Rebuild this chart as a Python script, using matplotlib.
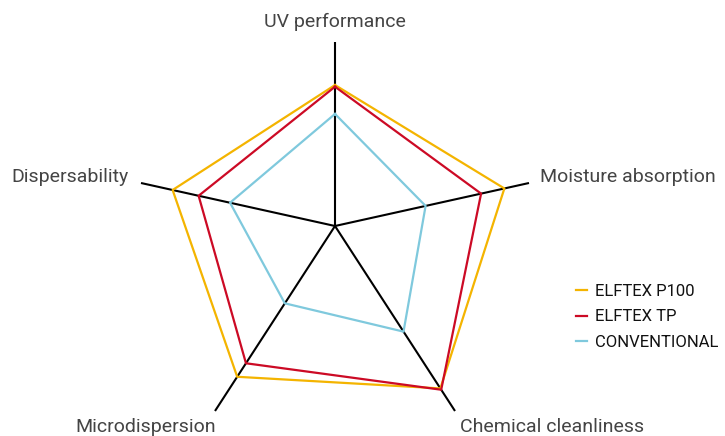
import matplotlib.pyplot as plt
import numpy as np

# data
axis_names = ["UV performance", "Moisture absorption", "Chemical cleanliness",
              "Microdispersion", "Dispersability"]
p100 = [0.766, 0.873, 0.878, 0.815, 0.837]
tp = [0.757, 0.753, 0.885, 0.742, 0.703]
conventional = [0.609, 0.467, 0.571, 0.418, 0.541]
series_names = ["ELFTEX P100", "ELFTEX TP", "CONVENTIONAL"]

# layout (pixel space of the figure)
W, H = 725, 436
center = np.array([335, 226])
ends = np.array([[335, 42], [529, 183], [455, 411], [215, 411], [141, 183]])
colors = ["#F4B400", "#CC0A25", "#7FC9DD"]

plt.rcParams['font.family'] = ['Roboto', 'DejaVu Sans']
fig = plt.figure(figsize=(W / 100, H / 100), dpi=100)
ax = fig.add_axes([0, 0, 1, 1])
ax.set_xlim(0, W)
ax.set_ylim(H, 0)
ax.axis('off')

for e in ends:
    ax.plot([center[0], e[0]], [center[1], e[1]], color='black', lw=1.5,
            solid_capstyle='butt', zorder=1)

for vals, col, name in zip([p100, tp, conventional], colors, series_names):
    pts = center + np.array(vals)[:, None] * (ends - center)
    pts = np.vstack([pts, pts[:1]])
    ax.plot(pts[:, 0], pts[:, 1], color=col, lw=1.6, label=name, zorder=2)

txt = dict(fontsize=14, color='#444444')
ax.text(335, 22, axis_names[0], ha='center', va='center', **txt)
ax.text(540, 177, axis_names[1], ha='left', va='center', **txt)
ax.text(552, 427, axis_names[2], ha='center', va='center', **txt)
ax.text(146, 427, axis_names[3], ha='center', va='center', **txt)
ax.text(129, 177, axis_names[4], ha='right', va='center', **txt)

leg = ax.legend(loc='upper left', bbox_to_anchor=(576 / W, 1 - 284 / H), frameon=False,
                handlelength=0.65, handletextpad=0.5, labelspacing=0.62, fontsize=12,
                borderaxespad=0, borderpad=0)
for t in leg.get_texts():
    t.set_color('#111111')

fig.savefig("out.png", dpi=100)
